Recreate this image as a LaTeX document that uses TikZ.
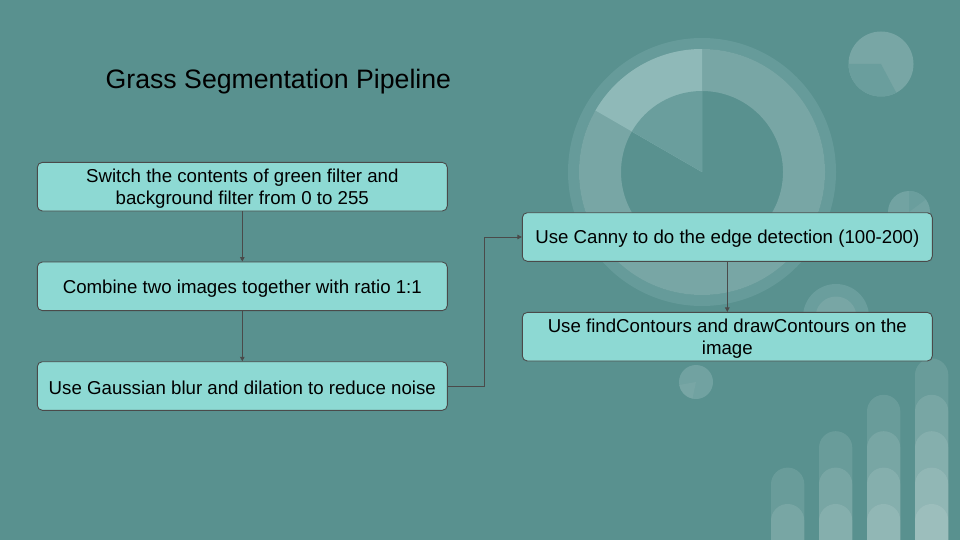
\documentclass[tikz,border=0pt]{standalone}
\usepackage{fontspec}
\setmainfont{Liberation Sans}
\usetikzlibrary{arrows.meta}
\definecolor{bgcol}{HTML}{59918F}
\definecolor{boxfill}{HTML}{8DD9D3}
\definecolor{edgecol}{HTML}{4A4A4A}
\definecolor{decoA}{HTML}{669B9A}
\definecolor{decoB}{HTML}{78A6A5}
\definecolor{decoC}{HTML}{8FB9B8}
\definecolor{decoD}{HTML}{6A9E9D}
\newcommand{\topstrut}{\rule{0pt}{17.5pt}}
\tikzset{
  stepbox/.style={draw=edgecol, line width=0.9pt, fill=boxfill, rounded corners=5pt,
    minimum width=410pt, minimum height=48.6pt, inner sep=0pt, align=center,
    font=\fontsize{18.67}{21.6}\selectfont, text=black},
  titletext/.style={anchor=base west, inner sep=0pt, font=\fontsize{26.67}{32}\selectfont, text=black},
  conn/.style={draw=edgecol, line width=0.9pt, -{Triangle[length=4.5pt,width=4.5pt]}},
  barseg/.style={fill=white, fill opacity=0.1}
}
\begin{document}
\begin{tikzpicture}[x=1pt, y=-1pt]
\useasboundingbox (0,0) rectangle (960,540);
\fill[bgcol] (0,0) rectangle (960,540);
% big donut
\fill[decoA, even odd rule] (702,172) circle[radius=134] (702,172) circle[radius=123];
\fill[decoB, even odd rule] (702,172) circle[radius=123] (702,172) circle[radius=81];
\fill[decoC] (702,172) -- +(-90:123) arc[start angle=-90, end angle=-150, radius=123] -- cycle;
\fill[decoD] (702,172) -- +(-90:81) arc[start angle=-90, end angle=-150, radius=81] -- cycle;
% top-right pie
\fill[decoB] (881,64) circle[radius=32.5];
\fill[decoD] (881,64) -- +(-180:32.5) arc[start angle=-180, end angle=-298, radius=32.5] -- cycle;
% small pie behind canny box
\fill[decoB!60!decoD] (909,212) circle[radius=21];
\fill[decoD] (909,212) -- +(-37:21) arc[start angle=-37, end angle=-90, radius=21] -- cycle;
% concentric circle behind contours box
\fill[decoD] (836,317) circle[radius=33];
\fill[decoB] (836,317) circle[radius=20.5];
% small pie below
\fill[decoB!50!decoD] (696,382) circle[radius=17];
\fill[decoB] (696,382) -- +(-190:17) arc[start angle=-190, end angle=-258, radius=17] -- cycle;
% bars
\foreach \bx/\bn in {771/2, 819/3, 867/4, 915/5} {
  \foreach \k in {1,...,\bn} {
    \pgfmathsetmacro\bt{504-36.4*(\k-1)}
    \fill[barseg] (\bx,540) -- (\bx,\bt+16.65) arc[start angle=180, end angle=360, radius=16.65] -- (\bx+33.3,540) -- cycle;
  }
}
% title
\node[titletext] (title) at (105.5,88.3) {Grass Segmentation Pipeline};
% boxes
\node[stepbox] (b1) at (242.3,186.7) {\topstrut Switch the contents of green filter and\\background filter from 0 to 255};
\node[stepbox] (b2) at (242.3,286.3) {\topstrut Combine two images together with ratio 1:1};
\node[stepbox] (b3) at (242.3,386) {\topstrut Use Gaussian blur and dilation to reduce noise};
\node[stepbox] (b4) at (727.3,237) {\topstrut Use Canny to do the edge detection (100-200)};
\node[stepbox] (b5) at (727.3,336.7) {\topstrut Use findContours and drawContours on the\\image};
% connectors
\draw[conn] (b1) -- (b2);
\draw[conn] (b2) -- (b3);
\draw[conn] (b3.east) -- ++(37,0) |- (b4.west);
\draw[conn] (b4) -- (b5);
\end{tikzpicture}
\end{document}
